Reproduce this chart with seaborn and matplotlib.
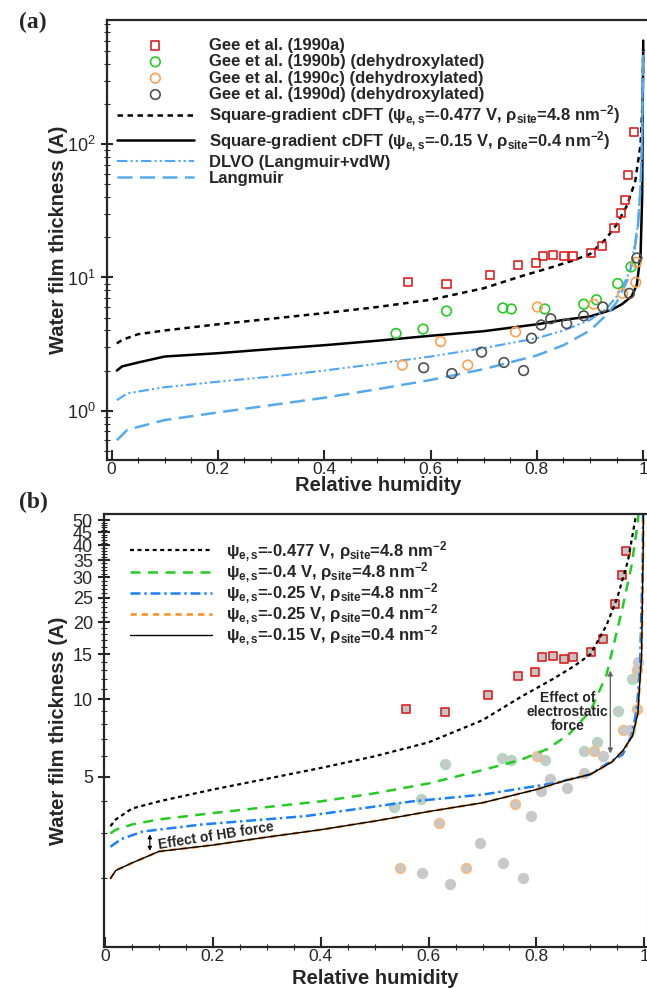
import matplotlib
matplotlib.use('Agg')
import numpy as np
import pandas as pd
import matplotlib.pyplot as plt
from matplotlib.ticker import FixedLocator, NullFormatter, LogLocator, FixedFormatter
import seaborn as sns

sns.set_style('ticks')
plt.rcParams['font.family'] = ['Liberation Sans', 'DejaVu Sans']
plt.rcParams['mathtext.fontset'] = 'custom'
plt.rcParams['mathtext.rm'] = 'Liberation Sans'
plt.rcParams['mathtext.bf'] = 'Liberation Sans:bold'
plt.rcParams['mathtext.it'] = 'Liberation Sans:italic'

# Experimental data (Gee et al. 1990)
gee_a_rh = [0.558, 0.630, 0.711, 0.765, 0.798, 0.811, 0.831, 0.852, 0.867, 0.901, 0.923, 0.946, 0.958, 0.966, 0.972, 0.983]
gee_a_h = [9.2, 8.9, 10.4, 12.4, 12.8, 14.6, 14.8, 14.4, 14.6, 15.3, 17.2, 23.5, 30.5, 38, 59, 123]
gee_b_rh = [0.535, 0.586, 0.630, 0.736, 0.752, 0.815, 0.888, 0.912, 0.952, 0.977]
gee_b_h = [3.8, 4.1, 5.6, 5.9, 5.8, 5.8, 6.3, 6.8, 9.0, 12.0]
gee_c_rh = [0.547, 0.619, 0.670, 0.760, 0.801, 0.907, 0.961, 0.986, 0.987]
gee_c_h = [2.2, 3.3, 2.2, 3.9, 6.0, 6.3, 7.6, 9.2, 13.0]
gee_d_rh = [0.587, 0.640, 0.696, 0.738, 0.775, 0.790, 0.808, 0.826, 0.856, 0.888, 0.924, 0.974, 0.988]
gee_d_h = [2.1, 1.9, 2.75, 2.3, 2.0, 3.5, 4.4, 4.9, 4.5, 5.15, 6.0, 7.6, 14.0]

# Model curves
rh_477 = [0.01, 0.02, 0.05, 0.1, 0.2, 0.3, 0.4, 0.5, 0.6, 0.7, 0.77, 0.83, 0.87, 0.9, 0.93, 0.95, 0.97, 0.985, 0.995, 0.999, 1.0]
h_477 = [3.2, 3.4, 3.75, 4.0, 4.45, 4.9, 5.4, 6.0, 6.8, 8.3, 10.2, 12.0, 13.5, 15.0, 19.5, 25, 35, 53, 100, 220, 520]
rh_015 = [0.01, 0.02, 0.05, 0.1, 0.2, 0.3, 0.4, 0.5, 0.6, 0.7, 0.8, 0.85, 0.9, 0.94, 0.96, 0.978, 0.988, 0.995, 0.998, 1.0]
h_015 = [2.0, 2.15, 2.3, 2.55, 2.7, 2.9, 3.1, 3.35, 3.65, 3.95, 4.45, 4.8, 5.1, 5.7, 6.3, 7.2, 8.8, 15, 40, 600]
rh_dlvo = [0.01, 0.03, 0.1, 0.2, 0.3, 0.4, 0.5, 0.6, 0.7, 0.8, 0.85, 0.9, 0.93, 0.95, 0.97, 0.98, 0.99, 0.995, 0.998, 1.0]
h_dlvo = [1.2, 1.35, 1.5, 1.65, 1.8, 2.0, 2.25, 2.55, 2.95, 3.5, 4.0, 4.8, 5.8, 7.2, 10, 14, 25, 50, 120, 500]
rh_lang = [0.01, 0.03, 0.1, 0.2, 0.3, 0.4, 0.5, 0.6, 0.7, 0.8, 0.85, 0.9, 0.93, 0.95, 0.97, 0.98, 0.99, 0.995, 0.998, 1.0]
h_lang = [0.6, 0.72, 0.85, 0.97, 1.1, 1.25, 1.45, 1.7, 2.05, 2.6, 3.1, 4.0, 5.2, 6.5, 9.5, 13, 24, 48, 120, 500]
rh_040 = [0.01, 0.02, 0.05, 0.1, 0.2, 0.3, 0.4, 0.5, 0.6, 0.7, 0.77, 0.82, 0.86, 0.9, 0.93, 0.96, 0.976, 0.988, 0.995, 1.0]
h_040 = [3.0, 3.1, 3.25, 3.4, 3.6, 3.8, 4.0, 4.3, 4.7, 5.3, 5.8, 6.4, 7.3, 9.0, 12.5, 23, 33, 49, 80, 200]
rh_025 = [0.01, 0.03, 0.07, 0.18, 0.37, 0.57, 0.7, 0.83, 0.9, 0.93, 0.96, 0.976, 0.986, 0.992, 0.997, 1.0]
h_025 = [2.66, 2.85, 3.05, 3.25, 3.5, 4.0, 4.25, 4.7, 5.1, 5.6, 6.1, 7.2, 9.1, 13.3, 35, 200]
rh_025_04 = [0.01, 0.02, 0.05, 0.1, 0.2, 0.3, 0.4, 0.5, 0.6, 0.7, 0.8, 0.85, 0.9, 0.94, 0.96, 0.978, 0.988, 0.995, 0.998, 1.0]
h_025_04 = [2.0, 2.15, 2.3, 2.55, 2.7, 2.9, 3.1, 3.35, 3.65, 3.95, 4.45, 4.8, 5.1, 5.7, 6.3, 7.2, 8.8, 15, 40, 600]

lab_477 = r'ψ$_{\mathbf{e,s}}$=-0.477 V, ρ$_{\mathbf{site}}$=4.8 nm$^{\mathbf{-2}}$'
lab_040 = r'ψ$_{\mathbf{e,s}}$=-0.4 V, ρ$_{\mathbf{site}}$=4.8 nm$^{\mathbf{-2}}$'
lab_025 = r'ψ$_{\mathbf{e,s}}$=-0.25 V, ρ$_{\mathbf{site}}$=4.8 nm$^{\mathbf{-2}}$'
lab_025_04 = r'ψ$_{\mathbf{e,s}}$=-0.25 V, ρ$_{\mathbf{site}}$=0.4 nm$^{\mathbf{-2}}$'
lab_015 = r'ψ$_{\mathbf{e,s}}$=-0.15 V, ρ$_{\mathbf{site}}$=0.4 nm$^{\mathbf{-2}}$'

fig = plt.figure(figsize=(6.47, 9.88), dpi=100)
ax1 = fig.add_axes([0.1654, 0.5341, 0.837, 0.4457])
ax2 = fig.add_axes([0.1607, 0.0415, 0.8393, 0.4383])


def line(ax, x, y, color, lw, ls, label, z=2):
    sns.lineplot(x=x, y=y, ax=ax, color=color, lw=lw, linestyle=ls,
                 label=label, estimator=None, sort=False, zorder=z)


def points(ax, x, y, marker, size, fc, ec, label=None, z=3):
    sns.scatterplot(x=x, y=y, ax=ax, marker=marker, s=size, facecolor=fc,
                    edgecolor=ec, linewidth=1.2, label=label, zorder=z)


# (a)
points(ax1, gee_a_rh, gee_a_h, 's', 34, 'none', '#dd2020', 'Gee et al. (1990a)')
points(ax1, gee_b_rh, gee_b_h, 'o', 48, 'none', '#22cc22', 'Gee et al. (1990b) (dehydroxylated)')
points(ax1, gee_c_rh, gee_c_h, 'o', 48, 'none', '#ffa050', 'Gee et al. (1990c) (dehydroxylated)')
points(ax1, gee_d_rh, gee_d_h, 'o', 48, 'none', '#505050', 'Gee et al. (1990d) (dehydroxylated)')
line(ax1, rh_477, h_477, 'black', 1.8, (0, (2.2, 1.8)),
     'Square-gradient cDFT (' + lab_477 + ')')
line(ax1, rh_015, h_015, 'black', 1.8, '-',
     'Square-gradient cDFT (' + lab_015 + ')')
line(ax1, rh_dlvo, h_dlvo, '#4da6ff', 1.5, (0, (5, 1.5, 1, 1.5, 1, 1.5)), 'DLVO (Langmuir+vdW)')
line(ax1, rh_lang, h_lang, '#55aaee', 1.8, (0, (6, 3)), 'Langmuir')

ax1.set_yscale('log')
ax1.set_xlim(-0.0085, 1.01)
ax1.set_ylim(0.424, 857)
ax1.legend(loc='upper left', bbox_to_anchor=(0.0, 0.982), frameon=False,
           prop={'weight': 'bold', 'size': 12}, handlelength=4.6,
           labelspacing=0.08, handletextpad=0.9, borderaxespad=0.2)

# (b)
points(ax2, gee_a_rh, gee_a_h, 's', 34, '#c4c4c4', '#dd2020', z=1)
points(ax2, gee_b_rh, gee_b_h, 'o', 48, '#c8c8c8', '#a8dcb8', z=1)
points(ax2, gee_c_rh, gee_c_h, 'o', 48, '#c8c8c8', '#f5bb80', z=1)
points(ax2, gee_d_rh, gee_d_h, 'o', 48, '#c8c8c8', '#c8c8c8', z=1)
line(ax2, rh_477, h_477, 'black', 1.6, (0, (1.8, 1.6)), lab_477)
line(ax2, rh_040, h_040, '#22cc22', 1.8, (0, (4, 3)), lab_040)
line(ax2, rh_025, h_025, '#1a80ff', 1.8, (0, (4, 1.5, 1, 1.5)), lab_025)
line(ax2, rh_025_04, h_025_04, '#ff8c1a', 1.8, (0, (2.5, 2)), lab_025_04)
line(ax2, rh_015, h_015, 'black', 1.0, '-', lab_015)

ax2.set_yscale('log')
ax2.set_xlim(-0.002, 1.005)
ax2.set_ylim(1.08, 53)
ax2.legend(loc='upper left', bbox_to_anchor=(0.03, 0.965), frameon=False,
           prop={'weight': 'bold', 'size': 12}, handlelength=4.9,
           labelspacing=-0.2, handletextpad=0.85, borderaxespad=0.2)

ax2.annotate('', xy=(0.937, 6.0), xytext=(0.937, 13.3),
             arrowprops=dict(arrowstyle='<|-|>', color='#666666', lw=1, mutation_scale=7))
ax2.text(0.858, 8.9, 'Effect of\nelectrostatic\nforce', ha='center', va='center',
         fontsize=10, fontweight='bold', linespacing=1.0)
ax2.annotate('', xy=(0.083, 2.5), xytext=(0.083, 3.05),
             arrowprops=dict(arrowstyle='<|-|>', color='black', lw=0.8, mutation_scale=6))
ax2.text(0.205, 2.92, 'Effect of HB force', ha='center', va='center',
         fontsize=10, fontweight='bold', rotation=9, rotation_mode='anchor')

# shared axis styling
for ax in (ax1, ax2):
    ax.xaxis.set_major_locator(FixedLocator([0, 0.2, 0.4, 0.6, 0.8, 1.0]))
    ax.xaxis.set_major_formatter(FixedFormatter(['0', '0.2', '0.4', '0.6', '0.8', '1']))
    ax.xaxis.set_minor_locator(FixedLocator(np.arange(0.05, 1.0, 0.05)))
    ax.tick_params(which='major', direction='inout', length=9, width=1.5, labelsize=13)
    ax.tick_params(axis='x', which='major', direction='in', length=7, pad=1.5, labelsize=12.5)
    ax.tick_params(which='minor', direction='inout', length=5, width=0.8)
    ax.set_xlabel('Relative humidity', fontsize=14.5, fontweight='bold')
    ax.set_ylabel('Water film thickness (A)', fontsize=14.5, fontweight='bold')
    ax.xaxis.label.set_verticalalignment('center')
    for s in ['left', 'bottom', 'top']:
        ax.spines[s].set_linewidth(1.6)

ax1.xaxis.set_label_coords(0.5, -0.058)
ax2.xaxis.set_label_coords(0.5, -0.0716)
ax1.yaxis.set_label_coords(-0.072, 0.5)
ax2.yaxis.set_label_coords(-0.066, 0.5)

ax1.spines['right'].set_visible(False)
ax2.spines['right'].set_color('#888888')
ax2.spines['right'].set_linewidth(0.8)
ax1.yaxis.set_major_locator(LogLocator(base=10, numticks=10))
ax1.yaxis.set_minor_locator(LogLocator(base=10, subs=np.arange(2, 10), numticks=10))
ax1.yaxis.set_minor_formatter(NullFormatter())

ax2.yaxis.set_major_locator(FixedLocator([5, 10, 15, 20, 25, 30, 35, 40, 45, 50]))
ax2.yaxis.set_major_formatter(FixedFormatter(['5', '10', '15', '20', '25', '30', '35', '40', '45', '50']))
ax2.yaxis.set_minor_locator(FixedLocator([v for v in range(2, 51) if v % 5 != 0]))
ax2.yaxis.set_minor_formatter(NullFormatter())

fig.text(0.03, 0.977, '(a)', family='Liberation Serif', fontweight='bold', fontsize=17, va='center')
fig.text(0.03, 0.491, '(b)', family='Liberation Serif', fontweight='bold', fontsize=17, va='center')

fig.savefig('out.png', dpi=100)
